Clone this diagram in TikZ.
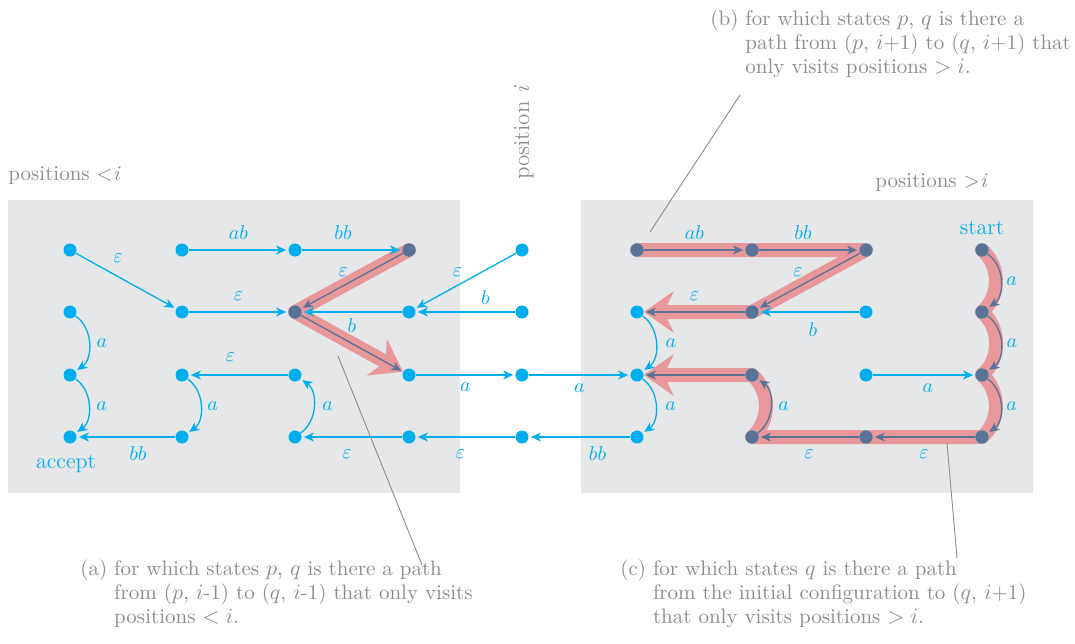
\documentclass[tikz,border=0pt]{standalone}
\usepackage{fontspec}
\usepackage{tikz}
\usetikzlibrary{arrows.meta,positioning}
\definecolor{autcyan}{HTML}{00AEEF}
\definecolor{autdark}{HTML}{5B7297}
\definecolor{autred}{HTML}{E8989A}
\definecolor{autbox}{HTML}{E6E7E8}
\definecolor{autgray}{HTML}{8C8C8C}
\pgfdeclarelayer{bg}
\pgfsetlayers{bg,main}

\begin{document}
\begin{tikzpicture}[
        x=0.5pt, y=-0.5pt,
        every node/.style={font=\fontsize{10}{12}\selectfont},
        dot/.style={circle, fill=autcyan, inner sep=0pt, minimum size=6.5pt},
        hot/.style={dot, fill=autdark},
        move/.style={draw=autcyan, line width=0.65pt, -{Stealth[length=5pt,width=4.5pt,inset=1.5pt]}, shorten >=1pt},
        hotmove/.style={move, draw=autdark},
        lab/.style={text=autcyan, inner sep=1.5pt},
        tag/.style={text=autcyan, inner sep=1.5pt, font=\fontsize{11}{13}\selectfont},
        trail/.style={draw=autred, line width=7pt, line cap=round, line join=round},
        bigtip/.style={trail, -{Stealth[length=15pt,width=21pt,inset=5pt,line width=0pt]}},
        note/.style={text=autgray, inner sep=0pt, anchor=base west, font=\fontsize{10.5}{12}\selectfont},
        lead/.style={draw=autgray, line width=0.45pt},
        region/.style={fill=autbox}
    ]
    \useasboundingbox (0,0) rectangle (1075,643);

    % grid of configurations
    \foreach \c/\x in {1/70,2/182,3/295,4/409,5/522,6/637,7/752,8/866,9/982}
        \foreach \r/\y in {1/250,2/312,3/375,4/437}
            \node[dot] (n\c\r) at (\x,\y) {};
    \foreach \n in {41,32,61,71,81,72,91,92,93,94,84,74,73}
        \node[hot] (h\n) at (n\n) {};

    \node[tag, above=2.5pt of n91] (start) {start};
    \node[tag, below=4pt of n14, xshift=-2pt] (accept) {accept};

    \begin{pgfonlayer}{bg}
        \fill[region] (8,200) rectangle (460,493);
        \fill[region] (581,200) rectangle (1033,493);
        \draw[bigtip] (n41.center) -- (n32.center) -- (n43);
        \draw[bigtip] (n61.center) -- (n71.center) -- (n81.center) -- (n72.center) -- (n62);
        \draw[bigtip] (n91.center) to[bend left=50] (n92.center) to[bend left=50] (n93.center)
            to[bend left=50] (n94.center) -- (n84.center) -- (n74.center)
            to[bend right=50] (n73.center) -- (n63);
    \end{pgfonlayer}

    % positions < i
    \draw[move] (n11) -- node[lab, above=7.5pt, xshift=-4pt] {$\varepsilon$} (n22);
    \draw[move] (n21) -- node[lab, above=3.5pt] {$ab$} (n31);
    \draw[move] (n31) -- node[lab, above=3.5pt, xshift=-4.5pt] {$bb$} (n41);
    \draw[move] (n22) -- node[lab, above=4pt] {$\varepsilon$} (n32);
    \draw[hotmove] (n41) -- node[lab, above=0.5pt, xshift=-4.5pt] {$\varepsilon$} (n32);
    \draw[move] (n42) -- node[lab, below=1.5pt] {$b$} (n32);
    \draw[hotmove] (n32) -- (n43);
    \draw[move] (n12) to[bend left=55] node[lab, right=2pt] {$a$} (n13);
    \draw[move] (n13) to[bend left=55] node[lab, right=2pt] {$a$} (n14);
    \draw[move] (n33) -- node[lab, above=5pt, xshift=-4pt] {$\varepsilon$} (n23);
    \draw[move] (n23) to[bend left=55] node[lab, right=1.5pt] {$a$} (n24);
    \draw[move] (n24) -- node[lab, below=3pt, xshift=6pt] {$bb$} (n14);
    \draw[move] (n34) to[bend right=55] node[lab, right=2.5pt] {$a$} (n33);
    \draw[move] (n44) -- node[lab, below=4.5pt, xshift=-2.5pt] {$\varepsilon$} (n34);

    % position i
    \draw[move] (n51) -- node[lab, above=0.5pt, xshift=-4pt] {$\varepsilon$} (n42);
    \draw[move] (n52) -- node[lab, above=2pt, xshift=10pt] {$b$} (n42);
    \draw[move] (n43) -- node[lab, below=2pt] {$a$} (n53);
    \draw[move] (n53) -- node[lab, below=2.5pt] {$a$} (n63);
    \draw[move] (n54) -- node[lab, below=4.5pt, xshift=-2.5pt] {$\varepsilon$} (n44);
    \draw[move] (n64) -- node[lab, below=3pt, xshift=9pt] {$bb$} (n54);

    % positions > i
    \draw[hotmove] (n61) -- node[lab, above=3.5pt] {$ab$} (n71);
    \draw[hotmove] (n71) -- node[lab, above=3.5pt, xshift=-3pt] {$bb$} (n81);
    \draw[hotmove] (n81) -- node[lab, above=0.5pt, xshift=-5.5pt] {$\varepsilon$} (n72);
    \draw[hotmove] (n72) -- node[lab, above=4pt] {$\varepsilon$} (n62);
    \draw[move] (n82) -- node[lab, below=3.5pt, xshift=2pt] {$b$} (n72);
    \draw[move] (n62) to[bend left=55] node[lab, right=3pt] {$a$} (n63);
    \draw[move] (n63) to[bend left=55] node[lab, right=3pt] {$a$} (n64);
    \draw[hotmove] (n73) -- (n63);
    \draw[hotmove] (n74) to[bend right=55] node[lab, right=2pt] {$a$} (n73);
    \draw[hotmove] (n84) -- node[lab, below=4.5pt] {$\varepsilon$} (n74);
    \draw[hotmove] (n94) -- node[lab, below=4.5pt] {$\varepsilon$} (n84);
    \draw[move] (n83) -- node[lab, below=2.5pt, xshift=2pt] {$a$} (n93);
    \draw[hotmove] (n91) to[bend left=55] node[lab, right=1pt] {$a$} (n92);
    \draw[hotmove] (n92) to[bend left=55] node[lab, right=1pt] {$a$} (n93);
    \draw[hotmove] (n93) to[bend left=55] node[lab, right=1pt] {$a$} (n94);

    % headings
    \node[note] (lefthead) at (8,180) {positions {<}\textit{i}};
    \node[note] (righthead) at (875,187) {positions {>}\textit{i}};
    \node[note, rotate=90, font=\fontsize{11.5}{13}\selectfont] (midhead) at (529,180) {position \textit{i}};

    % captions and leaders
    \node[note] (capa) at (80,575) {\begin{tabular}[t]{@{}l@{\ }l@{}}(a) & for which states $p$, $q$ is there a path\\
        & from ($p$, $i$-1) to ($q$, $i$-1) that only visits\\ & positions $<i$.\end{tabular}};
    \node[note] (capb) at (710,25) {\begin{tabular}[t]{@{}l@{\ }l@{}}(b) & for which states $p$, $q$ is there a\\
        & path from ($p$, $i$+1) to ($q$, $i$+1) that\\ & only visits positions $>i$.\end{tabular}};
    \node[note] (capc) at (620,575) {\begin{tabular}[t]{@{}l@{\ }l@{}}(c) & for which states $q$ is there a path\\
        & from the initial configuration to ($q$, $i$+1)\\ & that only visits positions $>i$.\end{tabular}};
    \coordinate (pa) at (338,356);
    \coordinate (qa) at (422,565);
    \coordinate (pb) at (650,232);
    \coordinate (qb) at (740,95);
    \coordinate (pc) at (947,443);
    \coordinate (qc) at (957,558);
    \draw[lead] (pa) -- (qa);
    \draw[lead] (pb) -- (qb);
    \draw[lead] (pc) -- (qc);
\end{tikzpicture}
\end{document}
